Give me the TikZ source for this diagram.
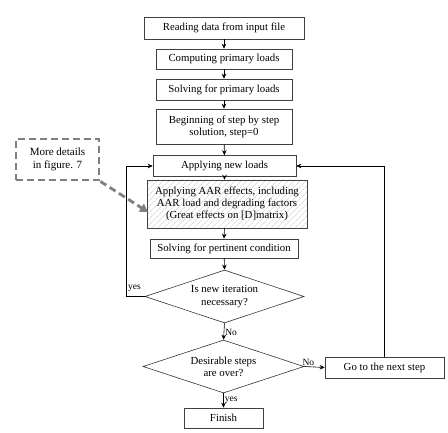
\documentclass[tikz,border=0pt]{standalone}
\usepackage{fontspec}
\setmainfont{Liberation Serif}
\usetikzlibrary{arrows.meta,shapes.geometric,patterns.meta}
\begin{document}
\begin{tikzpicture}[x=1pt,y=-1pt,
  box/.style={draw=black!75,line width=0.6pt,rectangle,inner sep=1pt,align=center,font=\fontsize{10.8}{12.2}\selectfont},
  dec/.style={draw=black!80,line width=0.6pt,shape=diamond,aspect=3,inner sep=0pt,align=center,font=\fontsize{10.8}{12.2}\selectfont},
  arr/.style={draw=black,line width=0.6pt,-{Stealth[length=5pt,width=4.5pt]}},
  lab/.style={font=\fontsize{9.5}{10}\selectfont,inner sep=1pt},
  callout/.style={draw=black!50,line width=2.8pt,dash pattern=on 7pt off 4pt,align=center,font=\fontsize{11}{13}\selectfont}]
\useasboundingbox (0,0) rectangle (448,433);
\node[box,minimum width=160pt,minimum height=22pt] (b1) at (224,28) {Reading data from input file};
\node[box,minimum width=136pt,minimum height=20pt] (b2) at (224,59) {Computing primary loads};
\node[box,minimum width=136pt,minimum height=21pt] (b3) at (224,89.5) {Solving for primary loads};
\node[box,minimum width=136pt,minimum height=35pt] (b4) at (224,126.5) {Beginning of step by step\\solution, step=0};
\node[box,minimum width=143pt,minimum height=21pt] (b5) at (224.5,166) {Applying new loads};
\node[box,minimum width=160pt,minimum height=48pt,pattern={Lines[angle=45,distance=4pt,line width=0.5pt]},pattern color=black!22] (b6) at (227,204) {Applying AAR effects, including\\AAR load and degrading factors\\(Great effects on [D]matrix)};
\node[box,minimum width=148pt,minimum height=19pt] (b7) at (224,248.5) {Solving for pertinent condition};
\node[dec,minimum width=159pt,minimum height=53pt] (d1) at (224.5,296.5) {Is new iteration\\necessary?};
\node[dec,minimum width=161pt,minimum height=53pt] (d2) at (223.5,366.5) {Desirable steps\\are over?};
\node[box,minimum width=79pt,minimum height=20pt] (fin) at (223.5,418) {Finish};
\node[box,minimum width=119pt,minimum height=21pt] (next) at (384.5,367.5) {Go to the next step};
\node[callout,minimum width=83pt,minimum height=41pt] (call) at (57.5,159.5) {More details\\in figure. 7};
\coordinate (ctip) at (148,212);
\coordinate (lc) at (126,296.5);

\draw[arr] (b1) -- (b2);
\draw[arr] (b2) -- (b3);
\draw[arr] (b3) -- (b4);
\draw[arr] (b4) -- (b5);
\draw[arr] (b5.south) -- (b5.south |- b6.north);
\draw[arr] (b5.south |- b6.south) -- (b7.north);
\draw[arr] (b7) -- (d1.north);
\draw[arr] (d1.south) -- node[lab,right,pos=0.55]{No} (d2.north);
\draw[arr] (d2.south) -- node[lab,right,pos=0.5]{yes} (fin.north);
\draw[arr] (d2.east) -- node[lab,above,pos=0.2]{No} (next.west);
\draw[arr] (next.north) |- (b5.east);
\draw[arr] (d1.west) -- (lc) |- (b5.west);
\node[lab,anchor=south west] at (127,293) {yes};
\draw[draw=black!50,line width=2.8pt,dash pattern=on 7pt off 4pt,-{Triangle[length=8pt,width=9pt,fill=black!50]}] (call.south east) -- (ctip);
\end{tikzpicture}
\end{document}
